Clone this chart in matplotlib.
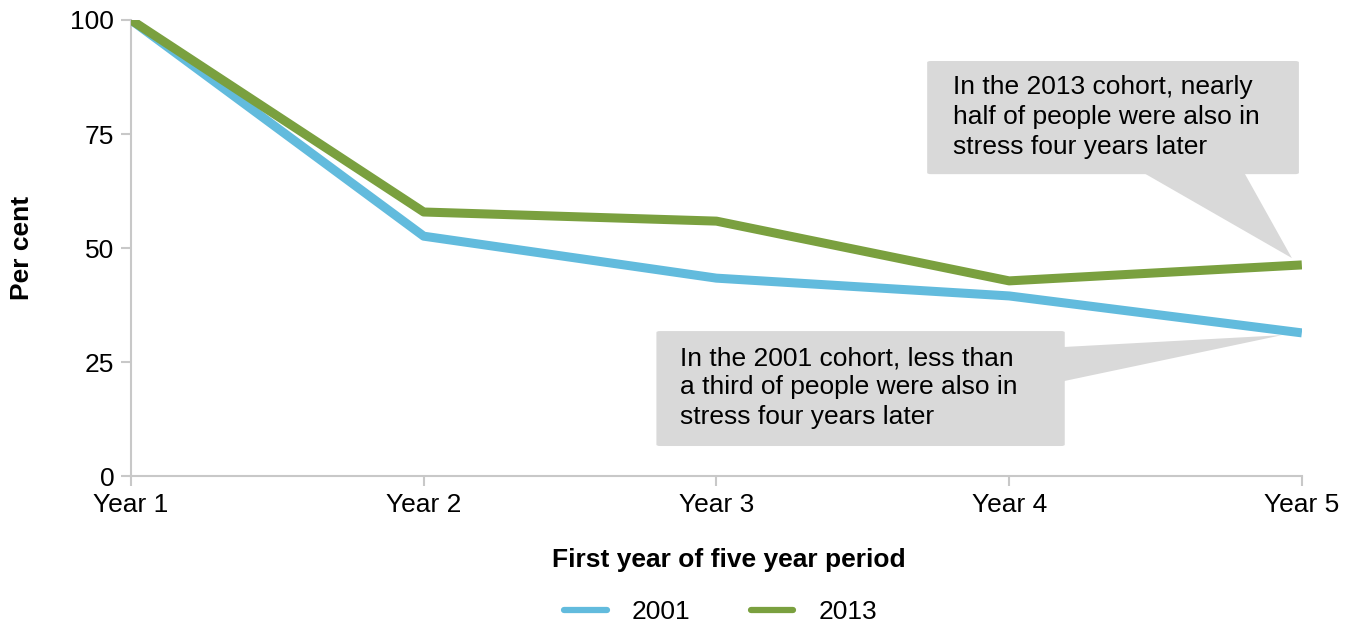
import matplotlib.pyplot as plt
from matplotlib.patches import FancyBboxPatch, Polygon

plt.rcParams['font.family'] = ['Liberation Sans', 'DejaVu Sans']

years = ['Year 1', 'Year 2', 'Year 3', 'Year 4', 'Year 5']
cohort_2001 = [100, 52.6, 43.4, 39.5, 31.4]
cohort_2013 = [100, 57.9, 55.9, 42.8, 46.3]

note_2013 = 'In the 2013 cohort, nearly\nhalf of people were also in\nstress four years later'
note_2001 = 'In the 2001 cohort, less than\na third of people were also in\nstress four years later'

blue = '#62bbdd'
green = '#7aa03f'
grey = '#c8c8c8'
box_grey = '#d9d9d9'
fs = 19

fig = plt.figure(figsize=(13.52, 6.24), dpi=100)
ax = fig.add_axes([0.0969, 0.237, 0.866, 0.731])

x = list(range(len(years)))
ax.plot(x, cohort_2001, color=blue, lw=6.5, label='2001', solid_capstyle='butt', zorder=3)
ax.plot(x, cohort_2013, color=green, lw=6.5, label='2013', solid_capstyle='butt', zorder=3)

ax.set_xlim(0, 4)
ax.set_ylim(0, 100)
ax.set_xticks(x)
ax.set_xticklabels(years)
ax.set_yticks([0, 25, 50, 75, 100])

for side in ['top', 'right']:
    ax.spines[side].set_visible(False)
for side in ['left', 'bottom']:
    ax.spines[side].set_color(grey)
    ax.spines[side].set_linewidth(1.5)
ax.tick_params(axis='both', colors=grey, width=1.5, length=7, labelsize=fs,
               labelcolor='black')
ax.tick_params(axis='x', pad=5)
ax.tick_params(axis='y', pad=5)

ax.set_ylabel('Per cent', fontsize=fs, fontweight='bold', va='center')
ax.yaxis.set_label_coords(-0.093, 0.5)
ax.set_xlabel('First year of five year period', fontsize=fs, fontweight='bold', va='center')
ax.xaxis.set_label_coords(0.511, -0.184)

# callout boxes with pointers to the year 5 values
box = FancyBboxPatch((2.72, 66.2), 1.27, 24.8, boxstyle='round,pad=0,rounding_size=0.012',
                     fc=box_grey, ec='none', zorder=4, mutation_aspect=25)
ax.add_patch(box)
ax.add_patch(Polygon([(3.464, 66.3), (3.805, 66.3), (3.966, cohort_2013[4] + 1.5)],
                     closed=True, fc=box_grey, ec='none', zorder=4))
ax.text(2.808, 88.0, note_2013, fontsize=fs, va='top', ha='left', linespacing=1.32, zorder=5)

box = FancyBboxPatch((1.795, 6.6), 1.395, 25.2, boxstyle='round,pad=0,rounding_size=0.012',
                     fc=box_grey, ec='none', zorder=4, mutation_aspect=25)
ax.add_patch(box)
ax.add_patch(Polygon([(3.185, 28.3), (3.185, 20.8), (3.932, cohort_2001[4] - 0.5)],
                     closed=True, fc=box_grey, ec='none', zorder=4))
ax.text(1.875, 28.5, note_2001, fontsize=fs, va='top', ha='left', linespacing=1.28, zorder=5)

leg = fig.legend(loc='center', bbox_to_anchor=(0.533, 0.019), ncol=2, frameon=False,
                 fontsize=fs, handlelength=1.6, columnspacing=2.3, handletextpad=0.95)
for line in leg.get_lines():
    line.set_linewidth(4.5)
    line.set_solid_capstyle('round')

fig.savefig('out.png', dpi=100)
